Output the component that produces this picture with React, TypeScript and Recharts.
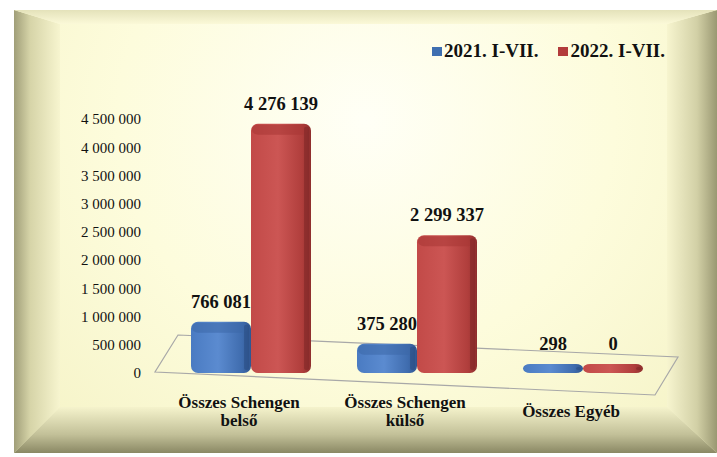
import { BarChart, Bar, XAxis, YAxis, LabelList, Customized, usePlotArea } from 'recharts';

const categories = ['Összes Schengen belső', 'Összes Schengen külső', 'Összes Egyéb'];
const values2021 = [766081, 375280, 298];
const values2022 = [4276139, 2299337, 0];
const yTicks = [0, 500000, 1000000, 1500000, 2000000, 2500000, 3000000, 3500000, 4000000, 4500000];
const seriesNames = ['2021. I-VII.', '2022. I-VII.'];

const chartData = categories.map((c, i) => ({
  name: c,
  v2021: values2021[i],
  v2022: values2022[i],
}));

const fmt = (n: number) => String(n).replace(/\B(?=(\d{3})+(?!\d))/g, ' ');

const serif = '"Liberation Serif", "Times New Roman", serif';
const DEPTH = 8; // fake 3d top face

// split category into two lines after "Schengen"
const wrap = (s: string) => {
  const words = s.split(' ');
  if (words.length <= 2) return [s];
  return [words.slice(0, 2).join(' '), words.slice(2).join(' ')];
};

const CategoryTick = (props: any) => {
  const { x, y, payload } = props;
  const lines = wrap(payload.value);
  const mid = y + 38;
  const lh = 18;
  const start = mid - ((lines.length - 1) * lh) / 2;
  return (
    <text x={x - 12} y={start} textAnchor="middle" dominantBaseline="central"
      fontFamily={serif} fontWeight="bold" fontSize={17} fill="#111">
      {lines.map((l, i) => (
        <tspan key={i} x={x - 12} y={start + i * lh}>{l}</tspan>
      ))}
    </text>
  );
};

const Bar3D = (props: any) => {
  const { x, y, width, height, gradId, edge, cap } = props;
  if (width == null || height == null) return null;
  const h = Math.max(height, 9);
  const yy = y + height - h - (height > 20 ? DEPTH : 0);
  const hh = y + height - yy;
  return (
    <g>
      <rect x={x} y={yy} width={width} height={hh} rx={7} ry={7} fill={`url(#${gradId})`} />
      {height > 20 && (
        <rect x={x + 1} y={yy + 1} width={width - 4} height={DEPTH + 2} rx={6} fill={cap} opacity={0.55} />
      )}
      <rect x={x + width - 7} y={yy + 3} width={5} height={Math.max(hh - 6, 2)} rx={2} fill={edge} opacity={0.55} />
    </g>
  );
};

const ValueLabel = (props: any) => {
  const { x, y, width, height, value } = props;
  const top = height > 20 ? y - DEPTH : Math.min(y, y + height - 9);
  return (
    <text x={x + width / 2} y={top - 14} textAnchor="middle"
      fontFamily={serif} fontWeight="bold" fontSize={18.5} fill="#111">
      {fmt(value)}
    </text>
  );
};

const Floor = () => {
  const plot = usePlotArea();
  if (!plot) return null;
  const { x, y, width, height } = plot;
  const b = y + height;
  const pts = [
    [x + 10, b - 38],
    [x + width + 12, b - 16],
    [x + width - 11, b + 22],
    [x - 13, b - 1],
  ].map(p => p.join(',')).join(' ');
  return <polygon points={pts} fill="none" stroke="#a8a8a8" strokeWidth={1.2} />;
};

const LegendBox = () => (
  <div style={{ position: 'absolute', left: 432, top: 40, display: 'flex', gap: 20, fontFamily: serif, fontWeight: 'bold', fontSize: 19, color: '#111' }}>
    {seriesNames.map((n, i) => (
      <span key={n} style={{ display: 'flex', alignItems: 'center' }}>
        <span style={{ width: 10, height: 9, background: i === 0 ? '#3f6fb0' : '#b23b3b', marginRight: 2, display: 'inline-block' }} />
        {n}
      </span>
    ))}
  </div>
);

const bevel = (clip: string, grad: string, style: React.CSSProperties): React.CSSProperties => ({
  position: 'absolute',
  clipPath: clip,
  background: grad,
  ...style,
});

export default function App() {
  const W = 703, H = 443, L = 46, R = 50, T = 14, B = 46;
  return (
    <div style={{ position: 'absolute', left: 0, top: 0, width: 717, height: 457, background: '#fff', overflow: 'hidden' }}>
      <div style={{ position: 'absolute', left: 14, top: 10, width: W, height: H, background: 'radial-gradient(ellipse at 50% 25%, #fffff6 0%, #fdfcdc 50%, #f4f2c4 100%)' }}>
        <div style={bevel(`polygon(0 0, 100% ${T}px, 100% calc(100% - ${B}px), 0 100%)`,
          'linear-gradient(to right, #a09e78 0%, #d6d4a8 35%, #f7f5cf 100%)', { left: 0, top: 0, width: L, height: H })} />
        <div style={bevel(`polygon(0 ${T}px, 100% 0, 100% 100%, 0 calc(100% - ${B}px))`,
          'linear-gradient(to left, #9a9872 0%, #d2d0a6 40%, #f7f5cf 100%)', { right: 0, top: 0, width: R, height: H })} />
        <div style={bevel(`polygon(0 0, 100% 0, calc(100% - ${R}px) 100%, ${L}px 100%)`,
          'linear-gradient(to bottom, #e4e2ba 0%, #fbf9d8 100%)', { left: 0, top: 0, width: W, height: T })} />
        <div style={bevel(`polygon(${L}px 0, calc(100% - ${R}px) 0, 100% 100%, 0 100%)`,
          'linear-gradient(to top, #8a8864 0%, #c2c098 40%, #f5f3cc 100%)', { left: 0, bottom: 0, width: W, height: B })} />
      </div>
      <LegendBox />
      <div style={{ position: 'absolute', left: 0, top: 0 }}>
        <BarChart width={717} height={457} data={chartData}
          margin={{ top: 119, right: 51, bottom: 24, left: 88 }}
          barGap={0} barSize={60}>
          <defs>
            <linearGradient id="gBlue" x1="0" y1="0" x2="1" y2="0">
              <stop offset="0%" stopColor="#4a7bc2" />
              <stop offset="45%" stopColor="#5b8bd0" />
              <stop offset="85%" stopColor="#3f6cae" />
              <stop offset="100%" stopColor="#2f5590" />
            </linearGradient>
            <linearGradient id="gRed" x1="0" y1="0" x2="1" y2="0">
              <stop offset="0%" stopColor="#c24a48" />
              <stop offset="45%" stopColor="#cc5654" />
              <stop offset="85%" stopColor="#b03e3c" />
              <stop offset="100%" stopColor="#8e2e2d" />
            </linearGradient>
          </defs>
          <Customized component={Floor} />
          <XAxis dataKey="name" axisLine={false} tickLine={false} tickSize={0} tickMargin={0} height={60}
            tick={<CategoryTick />} interval={0} />
          <YAxis domain={[0, 4500000]} ticks={yTicks} axisLine={false} tickLine={false} width={80}
            tickMargin={21} tickFormatter={fmt}
            tick={{ fontFamily: serif, fontSize: 15, fill: '#111' }} />
          <Bar dataKey="v2021" name={seriesNames[0]} fill="#4a7bc2" isAnimationActive={false}
            shape={(p: any) => <Bar3D {...p} gradId="gBlue" edge="#2a4c82" cap="#3d68a8" />}>
            <LabelList dataKey="v2021" content={<ValueLabel />} />
          </Bar>
          <Bar dataKey="v2022" name={seriesNames[1]} fill="#c24a48" isAnimationActive={false}
            shape={(p: any) => <Bar3D {...p} gradId="gRed" edge="#7e2626" cap="#a83634" />}>
            <LabelList dataKey="v2022" content={<ValueLabel />} />
          </Bar>
        </BarChart>
      </div>
    </div>
  );
}
